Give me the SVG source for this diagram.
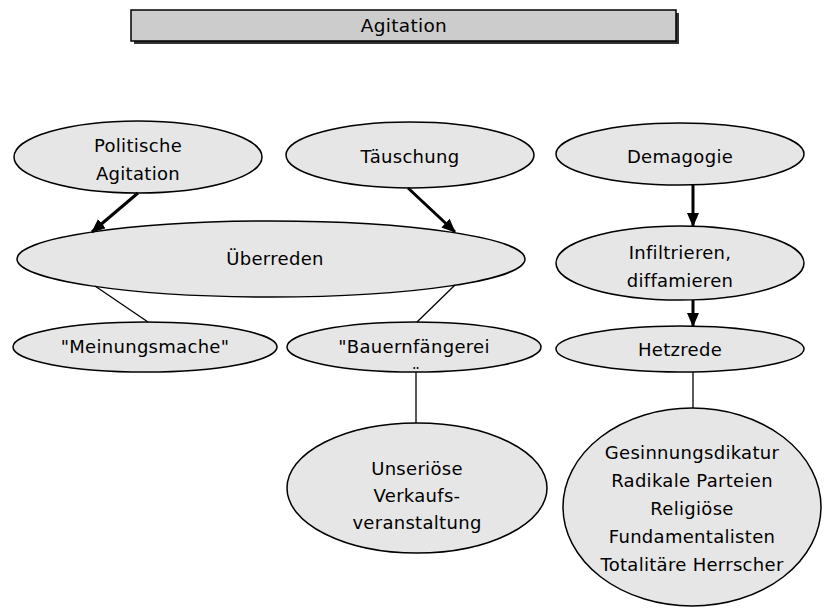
<svg xmlns="http://www.w3.org/2000/svg" width="833" height="610" viewBox="0 0 833 610">
<style>
.n{fill:#e6e6e6;stroke:#000;stroke-width:1.5}
.t{font-family:"DejaVu Sans","Liberation Sans",sans-serif;font-size:18px;fill:#000;text-anchor:middle;letter-spacing:0.3px}
.a{stroke:#000;stroke-width:3;fill:none;marker-end:url(#ah)}
.l{stroke:#000;stroke-width:1.3;fill:none}
</style>
<defs>
<marker id="ah" markerUnits="userSpaceOnUse" markerWidth="14" markerHeight="12" refX="13" refY="6" orient="auto">
<path d="M0,0 L14,6 L0,12 z" fill="#000"/>
</marker>
<clipPath id="cq"><rect x="380" y="340" width="70" height="29"/></clipPath>
</defs>
<rect width="833" height="610" fill="#fff"/>
<g id="title">
<rect x="134" y="13" width="545" height="31" fill="#333"/>
<rect x="131" y="10" width="545" height="31" fill="#cccccc" stroke="#000" stroke-width="1.5"/>
<text class="t" x="404" y="32" style="font-size:18.5px">Agitation</text>
</g>
<g id="politische">
<ellipse class="n" cx="138" cy="157" rx="124" ry="36"/>
<text class="t" x="138" y="152">Politische</text>
<text class="t" x="138" y="180">Agitation</text>
</g>
<g id="taeuschung">
<ellipse class="n" cx="410" cy="155" rx="124" ry="33"/>
<text class="t" x="410" y="163">Täuschung</text>
</g>
<g id="demagogie">
<ellipse class="n" cx="680" cy="154" rx="124" ry="31"/>
<text class="t" x="680" y="163">Demagogie</text>
</g>
<g id="ueberreden">
<ellipse class="n" cx="271" cy="259" rx="254" ry="38"/>
<text class="t" x="275" y="265">Überreden</text>
</g>
<g id="infiltrieren">
<ellipse class="n" cx="680" cy="263" rx="124" ry="37"/>
<text class="t" x="680" y="259">Infiltrieren,</text>
<text class="t" x="680" y="287">diffamieren</text>
</g>
<g id="meinungsmache">
<ellipse class="n" cx="145" cy="347" rx="132" ry="25"/>
<text class="t" x="145" y="353">"Meinungsmache"</text>
</g>
<g id="bauernfaengerei">
<ellipse class="n" cx="414" cy="347" rx="127" ry="25"/>
<text class="t" x="414" y="353">"Bauernfängerei</text>
<text class="t" x="416" y="380" clip-path="url(#cq)">"</text>
</g>
<g id="hetzrede">
<ellipse class="n" cx="680" cy="349" rx="124" ry="23"/>
<text class="t" x="680" y="356">Hetzrede</text>
</g>
<g id="unserioese">
<ellipse class="n" cx="417" cy="488" rx="130" ry="65"/>
<text class="t" x="417" y="475">Unseriöse</text>
<text class="t" x="417" y="502">Verkaufs-</text>
<text class="t" x="417" y="529">veranstaltung</text>
</g>
<g id="gesinnung">
<ellipse class="n" cx="692" cy="507" rx="129" ry="99"/>
<text class="t" x="692" y="459">Gesinnungsdikatur</text>
<text class="t" x="692" y="487">Radikale Parteien</text>
<text class="t" x="692" y="515">Religiöse</text>
<text class="t" x="692" y="543">Fundamentalisten</text>
<text class="t" x="692" y="571">Totalitäre Herrscher</text>
</g>
<g id="connectors">
<line class="a" x1="138" y1="193" x2="92" y2="232"/>
<line class="a" x1="408" y1="188" x2="455" y2="232"/>
<line class="a" x1="693" y1="185" x2="693" y2="226"/>
<line class="a" x1="693" y1="300" x2="693" y2="326"/>
<line class="l" x1="95" y1="286" x2="148" y2="322"/>
<line class="l" x1="455" y1="285" x2="417" y2="322"/>
<line class="l" x1="416" y1="372" x2="416" y2="423"/>
<line class="l" x1="693" y1="372" x2="693" y2="408"/>
</g>
</svg>
